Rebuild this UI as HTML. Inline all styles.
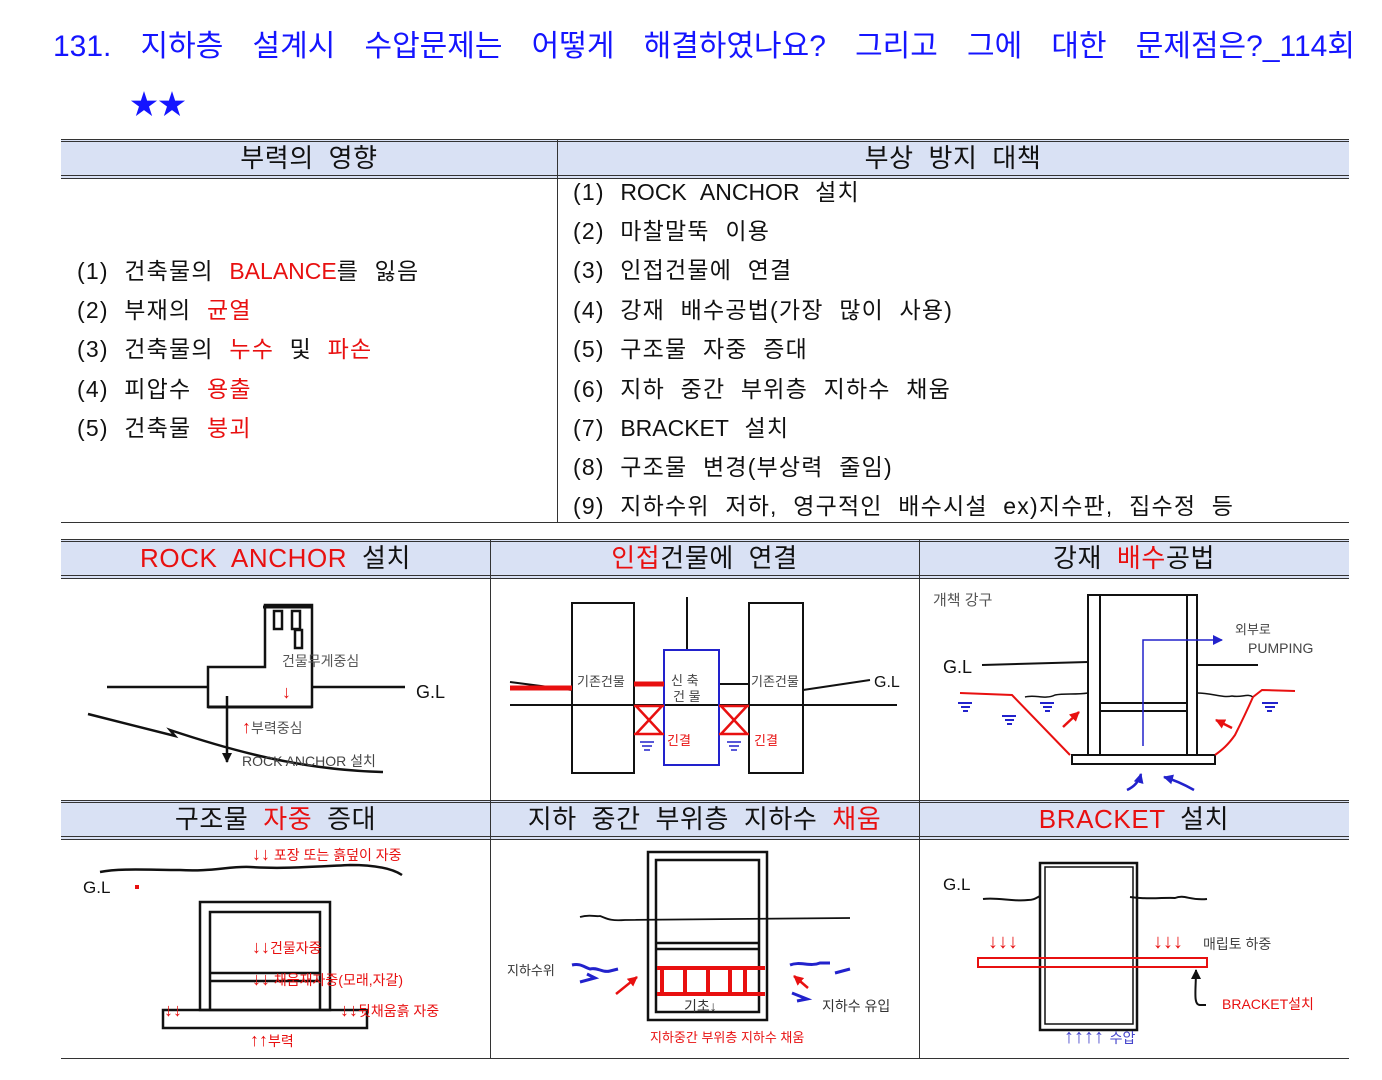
<!DOCTYPE html>
<html><head><meta charset="utf-8"><style>
body{margin:0;width:1382px;height:1080px;background:#fff;position:relative;overflow:hidden;font-family:"Liberation Sans","Noto Sans CJK KR",sans-serif;}
.a{position:absolute;white-space:nowrap;}
.t{font-size:23px;color:#111;line-height:1;letter-spacing:1.2px;word-spacing:8px;}
.l{letter-spacing:0;}
.r{color:#e81010;}
.hd{position:absolute;background:#d9e1f4;border-top:3px double #333;border-bottom:4px double #333;box-sizing:border-box;}
.hc{position:absolute;font-size:26px;text-align:center;line-height:1;color:#111;letter-spacing:0.6px;word-spacing:7px;}
.vl{position:absolute;width:1px;background:#333;}
.hl{position:absolute;height:1px;background:#333;}
</style></head><body>
<div class="a" style="left:53px;top:30px;width:1302px;display:flex;justify-content:space-between;font-size:30px;color:#1515ff;line-height:1.1">
<span>131.</span><span>지하층</span><span>설계시</span><span>수압문제는</span><span>어떻게</span><span>해결하였나요?</span><span>그리고</span><span>그에</span><span>대한</span><span>문제점은?_114회</span></div>
<div class="a" style="left:130px;top:83px;font-size:28px;color:#1515ff">★★</div>

<div class="hd" style="left:61px;top:139px;width:1288px;height:40px"></div>
<div class="vl" style="left:557px;top:139px;height:384px"></div>
<div class="hl" style="left:61px;top:522px;width:1288px"></div>
<div class="hc" style="left:61px;top:145px;width:496px">부력의 영향</div>
<div class="hc" style="left:557px;top:145px;width:792px">부상 방지 대책</div>
<div class="a t" style="left:77px;top:260px">(1) 건축물의 <span class="r l">BALANCE</span>를 잃음</div>
<div class="a t" style="left:77px;top:299px">(2) 부재의 <span class="r">균열</span></div>
<div class="a t" style="left:77px;top:338px">(3) 건축물의 <span class="r">누수</span> 및 <span class="r">파손</span></div>
<div class="a t" style="left:77px;top:378px">(4) 피압수 <span class="r">용출</span></div>
<div class="a t" style="left:77px;top:417px">(5) 건축물 <span class="r">붕괴</span></div>
<div class="a t" style="left:573px;top:181px">(1) <span class="l">ROCK ANCHOR</span> 설치</div>
<div class="a t" style="left:573px;top:220px">(2) 마찰말뚝 이용</div>
<div class="a t" style="left:573px;top:259px">(3) 인접건물에 연결</div>
<div class="a t" style="left:573px;top:299px">(4) 강재 배수공법(가장 많이 사용)</div>
<div class="a t" style="left:573px;top:338px">(5) 구조물 자중 증대</div>
<div class="a t" style="left:573px;top:378px">(6) 지하 중간 부위층 지하수 채움</div>
<div class="a t" style="left:573px;top:417px">(7) <span class="l">BRACKET</span> 설치</div>
<div class="a t" style="left:573px;top:456px">(8) 구조물 변경(부상력 줄임)</div>
<div class="a t" style="left:573px;top:495px">(9) 지하수위 저하, 영구적인 배수시설 ex)지수판, 집수정 등</div>

<div class="hd" style="left:61px;top:539px;width:1288px;height:40px"></div>
<div class="hd" style="left:61px;top:800px;width:1288px;height:40px"></div>
<div class="vl" style="left:490px;top:539px;height:520px"></div>
<div class="vl" style="left:919px;top:539px;height:520px"></div>
<div class="hl" style="left:61px;top:1058px;width:1288px"></div>
<div class="hc" style="left:61px;top:545px;width:429px"><span class="r">ROCK ANCHOR</span> 설치</div>
<div class="hc" style="left:490px;top:545px;width:429px"><span class="r">인접</span>건물에 연결</div>
<div class="hc" style="left:919px;top:545px;width:430px">강재 <span class="r">배수</span>공법</div>
<div class="hc" style="left:61px;top:806px;width:429px">구조물 <span class="r">자중</span> 증대</div>
<div class="hc" style="left:490px;top:806px;width:429px">지하 중간 부위층 지하수 <span class="r">채움</span></div>
<div class="hc" style="left:919px;top:806px;width:430px"><span class="r">BRACKET</span> 설치</div>

<svg class="a" style="left:0;top:0" width="1382" height="1080" font-family="Liberation Sans, Noto Sans CJK KR, sans-serif">
<defs>
<marker id="ab" markerUnits="userSpaceOnUse" markerWidth="10" markerHeight="10" refX="9" refY="5" orient="auto"><path d="M0,0L10,5L0,10z" fill="#2222cc"/></marker>
<marker id="ar" markerUnits="userSpaceOnUse" markerWidth="10" markerHeight="10" refX="9" refY="5" orient="auto"><path d="M0,0L10,5L0,10z" fill="#e81010"/></marker>
<marker id="ak" markerUnits="userSpaceOnUse" markerWidth="10" markerHeight="10" refX="9" refY="5" orient="auto"><path d="M0,0L10,5L0,10z" fill="#111"/></marker>
</defs>
<g stroke="#111" stroke-width="2.5" fill="none">
<path d="M107,687H208M312,687H405"/>
<path d="M208,707V667H265V605H312V707Z"/>
<path d="M208,707H312" stroke-width="3"/>
<rect x="274" y="611" width="8" height="18"/><rect x="292" y="611" width="8" height="18"/><rect x="295" y="630" width="7" height="18"/>
<path d="M88,714L175,736L170,730C230,750 300,770 383,772"/>
<path d="M227,696V762" marker-end="url(#ak)"/>
</g>
<path d="M263,607H312" stroke="#111" stroke-width="3"/>
<text x="416" y="698" font-size="18" fill="#111">G.L</text>
<text x="282" y="666" font-size="14" fill="#555">건물무게중심</text>
<text x="282" y="698" font-size="18" fill="#e81010">↓</text>
<text x="242" y="733" font-size="14" fill="#555"><tspan fill="#e81010" font-size="18">↑</tspan>부력중심</text>
<text x="242" y="766" font-size="14" fill="#444">ROCK ANCHOR 설치</text>
<g stroke="#111" stroke-width="2" fill="none">
<rect x="572" y="603" width="62" height="170"/><rect x="749" y="603" width="54" height="170"/>
<path d="M510,705H897M687,597V650M510,682L572,690M719,684H749M803,690L870,680"/>
</g>
<rect x="664" y="650" width="55" height="115" fill="none" stroke="#2222cc" stroke-width="2"/>
<path d="M510,688H572M634,684H664" stroke="#e81010" stroke-width="5"/>
<g stroke="#e81010" stroke-width="2.5" fill="none">
<path d="M634,706H664M634,734H664M636,706L662,734M662,706L636,734M719,706H749M719,734H749M721,706L747,734M747,706L721,734"/>
</g>
<g stroke="#2222cc" stroke-width="1.6"><path d="M640,742h14M642,746h10M644,750h6M727,742h14M729,746h10M731,750h6"/></g>
<text x="577" y="686" font-size="13" fill="#444">기존건물</text>
<text x="751" y="686" font-size="13" fill="#444">기존건물</text>
<text x="671" y="685" font-size="13" fill="#444">신 축</text>
<text x="673" y="701" font-size="13" fill="#444">건 물</text>
<text x="667" y="745" font-size="13" fill="#e81010">긴결</text>
<text x="754" y="745" font-size="13" fill="#e81010">긴결</text>
<text x="874" y="687" font-size="16" fill="#111">G.L</text>
<text x="933" y="605" font-size="15" fill="#555">개책 강구</text>
<text x="943" y="673" font-size="18" fill="#111">G.L</text>
<text x="1235" y="634" font-size="13" fill="#444">외부로</text>
<text x="1248" y="653" font-size="14" fill="#444">PUMPING</text>
<g stroke="#111" stroke-width="2" fill="none">
<path d="M1088,755V595H1197V755M1100,595V755M1187,595V755M1100,703H1187M1100,711H1187"/>
<rect x="1072" y="755" width="143" height="9"/>
<path d="M982,665L1088,662M1197,665H1258"/>
<path d="M1025,697c10,-3 20,3 30,-2c10,-2 20,0 33,-2M1197,693c15,0 25,5 35,3c10,2 15,-3 21,1" stroke-width="1.5"/>
</g>
<path d="M1143,746V640H1222" stroke="#2222cc" stroke-width="1.5" fill="none" marker-end="url(#ab)"/>
<path d="M960,693L1012,695L1070,755M1253,697L1262,690L1295,691M1253,697C1245,715 1240,725 1235,735C1228,745 1222,750 1215,755" stroke="#e81010" stroke-width="2" fill="none"/>
<path d="M1063,727L1079,712" stroke="#e81010" stroke-width="2.5" marker-end="url(#ar)"/>
<path d="M1232,728L1216,720" stroke="#e81010" stroke-width="2.5" marker-end="url(#ar)"/>
<g stroke="#2222cc" stroke-width="2"><path d="M958,703h14M961,707h9M963,711h5M1002,716h14M1005,720h9M1007,724h5M1040,703h14M1043,707h9M1045,711h5M1262,703h16M1265,707h10M1267,711h5"/></g>
<path d="M1127,790Q1138,785 1141,774" stroke="#2222cc" stroke-width="2.5" fill="none" marker-end="url(#ab)"/>
<path d="M1194,790Q1178,781 1164,777" stroke="#2222cc" stroke-width="2.5" fill="none" marker-end="url(#ab)"/>
<text x="83" y="893" font-size="17" fill="#111">G.L</text>
<rect x="135" y="885" width="4" height="4" fill="#e81010"/>
<path d="M100,872c20,-4 50,-2 80,-2c30,2 50,-4 70,-3c30,2 60,0 100,-2c20,0 40,2 52,10" stroke="#111" stroke-width="2.5" fill="none"/>
<text x="252" y="860" font-size="14" fill="#e81010"><tspan font-size="18">↓↓</tspan> 포장 또는 흙덮이 자중</text>
<g stroke="#111" stroke-width="2.5" fill="none">
<rect x="200" y="902" width="130" height="108"/><path d="M210,1010V912H320V1010M210,973H320M210,981H320"/>
<rect x="163" y="1010" width="204" height="18"/>
</g>
<text x="252" y="953" font-size="14" fill="#e81010"><tspan font-size="18">↓↓</tspan>건물자중</text>
<text x="252" y="985" font-size="14" fill="#e81010"><tspan font-size="18">↓↓</tspan> 채움재자중(모래,자갈)</text>
<text x="164" y="1016" font-size="18" fill="#e81010">↓↓</text>
<text x="340" y="1016" font-size="14" fill="#e81010"><tspan font-size="18">↓↓</tspan>뒷채움흙 자중</text>
<text x="250" y="1046" font-size="14" fill="#e81010"><tspan font-size="18">↑↑</tspan>부력</text>
<g stroke="#111" stroke-width="2.5" fill="none">
<rect x="648" y="852" width="119" height="168"/><rect x="656" y="860" width="103" height="152"/>
<path d="M656,943H759M656,949H759"/>
<path d="M580,917c10,-3 15,0 20,-1c8,3 10,5 25,4L850,918" stroke-width="1.8"/>
</g>
<g stroke="#e81010" stroke-width="4" fill="none"><path d="M657,968H765M657,994H765M662,968V994M685,968V994M708,968V994M730,968V994M745,968V994"/></g>
<text x="684" y="1011" font-size="14" fill="#333">기초↓</text>
<text x="507" y="975" font-size="13" fill="#333">지하수위</text>
<text x="822" y="1011" font-size="14" fill="#333">지하수 유입</text>
<text x="650" y="1042" font-size="13" fill="#e81010">지하중간 부위층 지하수 채움</text>
<g stroke="#2222cc" stroke-width="3" fill="none"><path d="M572,965c8,-2 12,2 18,4c8,-2 12,4 20,2l8,-2M580,982l15,-4l-8,-4M790,965c10,-4 20,2 30,-2l10,0M835,973l15,-4M792,993l15,6l-10,2"/></g>
<path d="M616,994L637,977" stroke="#e81010" stroke-width="2.5" marker-end="url(#ar)"/>
<path d="M808,988L794,976" stroke="#e81010" stroke-width="2.5" marker-end="url(#ar)"/>
<text x="943" y="890" font-size="17" fill="#111">G.L</text>
<g stroke="#111" stroke-width="2.5" fill="none">
<rect x="1040" y="863" width="97" height="167"/><rect x="1045" y="867" width="88" height="157" stroke-width="1.5"/>
<path d="M983,899c15,-2 30,3 45,1c6,0 8,-2 12,-4M1130,897c20,3 35,0 45,1c10,-4 15,3 32,1" stroke-width="2"/>
<path d="M1206,1005H1200C1193,1005 1196,990 1196,970" stroke-width="2" marker-end="url(#ak)"/>
</g>
<rect x="978" y="958" width="229" height="9" fill="none" stroke="#e81010" stroke-width="2"/>
<text x="988" y="948" font-size="20" fill="#e81010">↓↓↓</text>
<text x="1153" y="948" font-size="20" fill="#e81010">↓↓↓</text>
<text x="1203" y="949" font-size="14" fill="#444">매립토 하중</text>
<text x="1222" y="1009" font-size="14" fill="#e81010">BRACKET설치</text>
<text x="1064" y="1043" font-size="20" fill="#4444cc">↑↑↑↑ <tspan font-size="14">수압</tspan></text>
</svg>
</body></html>
